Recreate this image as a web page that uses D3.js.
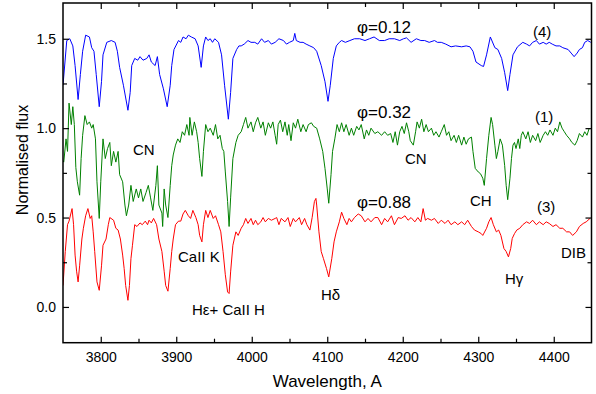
<!DOCTYPE html>
<html>
<head>
<meta charset="utf-8">
<script src="https://cdn.jsdelivr.net/npm/d3@7"></script>
<style>
  body { margin: 0; background: #fff; }
  svg text { font-family: "Liberation Sans", Arial, sans-serif; fill: #000; }
</style>
</head>
<body>
<svg id="chart" width="596" height="394"></svg>
<script>
// spectra: wavelength (A) and normalised flux
var blueWave = [3750,3755,3759,3763,3766,3770,3773,3776,3780,3785,3788,3791,3794,3798,3801,3803,3808,3814,3819,3822,3825,3830,3836,3839,3841,3845,3849,3852,3856,3861,3864,3867,3872,3875,3878,3883,3888,3892,3894,3897,3903,3906,3909,3913,3916,3920,3925,3929,3933,3936,3939,3942,3945,3948,3951,3956,3960,3964,3969,3972,3975,3980,3983,3986,3990,3995,3999,4004,4008,4013,4017,4022,4026,4031,4036,4042,4046,4050,4055,4057,4059,4064,4068,4072,4077,4082,4086,4092,4097,4101,4104,4108,4112,4116,4119,4124,4130,4136,4143,4150,4156,4162,4169,4176,4182,4189,4196,4201,4205,4211,4218,4224,4229,4235,4242,4246,4251,4257,4264,4270,4278,4284,4289,4293,4297,4304,4307,4311,4316,4322,4326,4331,4335,4339,4342,4346,4352,4359,4364,4368,4372,4377,4381,4386,4390,4394,4398,4403,4408,4412,4419,4423,4427,4431,4434,4438,4441,4445,4449];
var blueFlux = [1.24,1.49,1.50,1.46,1.35,1.16,1.30,1.43,1.52,1.51,1.45,1.43,1.30,1.12,1.26,1.41,1.48,1.49,1.48,1.43,1.34,1.24,1.10,1.20,1.35,1.39,1.38,1.40,1.38,1.39,1.41,1.37,1.35,1.40,1.30,1.22,1.12,1.24,1.35,1.44,1.49,1.48,1.51,1.50,1.52,1.51,1.50,1.46,1.34,1.46,1.51,1.49,1.50,1.48,1.50,1.48,1.41,1.24,1.05,1.20,1.39,1.44,1.46,1.46,1.47,1.49,1.48,1.48,1.47,1.50,1.48,1.49,1.47,1.48,1.50,1.49,1.47,1.48,1.49,1.53,1.49,1.48,1.48,1.47,1.46,1.45,1.43,1.35,1.26,1.15,1.24,1.39,1.46,1.48,1.49,1.48,1.49,1.50,1.50,1.49,1.50,1.51,1.49,1.49,1.50,1.50,1.49,1.50,1.505,1.48,1.50,1.49,1.49,1.48,1.49,1.48,1.48,1.47,1.455,1.46,1.455,1.46,1.455,1.43,1.37,1.35,1.345,1.41,1.51,1.45,1.44,1.39,1.31,1.21,1.30,1.41,1.455,1.48,1.47,1.46,1.48,1.49,1.47,1.48,1.47,1.48,1.47,1.46,1.46,1.45,1.44,1.42,1.40,1.42,1.44,1.45,1.48,1.49,1.48];

var greenWave = [3750,3751,3754,3756,3758,3761,3763,3765,3767,3769,3772,3774,3776,3779,3782,3785,3788,3790,3793,3795,3798,3800,3803,3806,3809,3812,3814,3817,3820,3823,3825,3829,3832,3834,3837,3840,3843,3847,3850,3853,3856,3860,3863,3866,3869,3873,3875,3877,3881,3882,3884,3886,3889,3892,3894,3896,3899,3902,3905,3908,3911,3914,3917,3918,3921,3924,3927,3929,3931,3934,3936,3939,3942,3945,3949,3952,3955,3958,3961,3963,3965,3968,3970,3972,3975,3979,3982,3986,3989,3992,3995,3999,4002,4005,4008,4012,4015,4018,4022,4025,4028,4031,4033,4035,4038,4041,4044,4047,4049,4052,4055,4058,4061,4065,4068,4072,4075,4079,4082,4086,4090,4094,4097,4100,4102,4105,4107,4110,4113,4116,4119,4122,4125,4129,4132,4135,4139,4142,4145,4149,4152,4155,4158,4163,4167,4172,4176,4180,4184,4187,4190,4193,4196,4199,4202,4205,4208,4210,4214,4217,4219,4222,4225,4228,4231,4234,4238,4241,4244,4248,4251,4255,4258,4261,4264,4268,4271,4274,4278,4281,4284,4287,4291,4293,4296,4300,4303,4306,4308,4311,4314,4317,4319,4322,4324,4326,4329,4332,4335,4337,4339,4342,4344,4346,4348,4350,4353,4355,4357,4359,4363,4366,4369,4372,4376,4379,4382,4386,4389,4392,4395,4399,4402,4405,4408,4411,4414,4417,4421,4424,4428,4431,4434,4438,4441,4444,4447];
var greenFlux = [0.82,0.81,0.94,0.87,1.14,1.02,1.12,1.02,0.78,0.70,0.625,0.83,0.96,1.07,1.02,1.035,1.00,1.02,0.94,0.70,0.495,0.70,0.94,0.83,0.886,0.92,0.79,0.87,0.81,0.87,0.74,0.70,0.57,0.51,0.57,0.68,0.59,0.66,0.61,0.66,0.59,0.64,0.68,0.61,0.54,0.68,0.79,0.57,0.525,0.45,0.66,0.57,0.50,0.68,0.79,0.85,0.905,0.94,0.92,0.98,0.96,1.02,0.96,1.06,0.96,1.035,0.98,0.92,0.83,0.73,0.87,1.02,0.98,1.00,0.96,1.02,0.94,0.96,0.886,0.87,0.755,0.59,0.45,0.61,0.83,0.92,0.96,0.98,1.02,1.06,1.00,1.035,0.98,1.03,1.06,1.00,1.035,0.96,1.03,1.00,1.035,0.96,0.91,1.02,1.045,0.98,1.035,0.96,1.02,0.93,1.03,1.00,1.05,0.98,1.02,0.98,1.02,1.03,1.01,1.00,0.94,0.87,0.775,0.66,0.58,0.74,0.87,0.94,1.02,0.98,1.03,0.98,1.02,0.96,1.00,0.96,1.01,0.99,1.02,0.94,0.99,0.96,1.00,0.97,0.98,0.96,0.98,0.96,0.97,0.92,0.98,0.905,0.98,1.01,0.97,1.03,0.98,0.93,0.905,0.98,1.035,1.00,1.05,0.98,1.02,0.98,1.00,0.96,0.98,0.95,0.98,1.02,0.96,0.98,0.93,0.96,0.92,0.96,0.905,0.95,0.91,0.94,0.95,0.87,0.775,0.755,0.745,0.72,0.68,0.83,0.96,1.06,1.02,0.905,0.83,0.87,0.94,0.905,0.79,0.68,0.60,0.72,0.83,0.905,0.92,0.886,0.94,0.886,0.96,0.98,0.94,0.98,0.92,0.96,0.93,0.97,0.92,0.96,0.98,0.96,0.99,0.96,1.00,0.98,1.035,1.00,0.98,0.96,0.94,0.92,0.905,0.93,0.97,0.95,0.98,0.96,1.00];

var redWave = [3750,3753,3756,3758,3762,3764,3766,3768,3770,3772,3775,3777,3780,3783,3786,3788,3790,3792,3795,3798,3801,3803,3807,3810,3812,3817,3820,3823,3826,3829,3831,3833,3836,3838,3840,3842,3845,3848,3852,3855,3859,3862,3864,3867,3870,3874,3877,3881,3884,3886,3889,3892,3894,3896,3899,3903,3906,3909,3912,3916,3919,3922,3926,3929,3931,3934,3936,3939,3942,3945,3949,3952,3956,3959,3962,3965,3968,3970,3972,3975,3979,3982,3986,3989,3992,3995,3999,4002,4005,4008,4012,4015,4018,4022,4026,4031,4033,4036,4039,4044,4048,4051,4055,4058,4063,4066,4070,4073,4077,4080,4083,4085,4086,4089,4092,4095,4099,4102,4106,4109,4112,4116,4119,4122,4126,4129,4132,4136,4141,4145,4150,4154,4158,4163,4167,4172,4176,4180,4185,4189,4194,4198,4203,4207,4211,4216,4220,4224,4227,4230,4233,4238,4242,4247,4251,4256,4260,4264,4269,4273,4278,4282,4286,4291,4295,4300,4304,4306,4311,4314,4317,4320,4324,4327,4330,4334,4337,4340,4343,4345,4348,4351,4355,4359,4364,4368,4372,4377,4381,4386,4390,4394,4399,4403,4408,4412,4417,4421,4425,4430,4434,4439,4443,4448];
var redFlux = [0.12,0.31,0.46,0.48,0.55,0.46,0.29,0.20,0.14,0.23,0.38,0.44,0.51,0.55,0.495,0.51,0.42,0.31,0.14,0.093,0.23,0.345,0.38,0.46,0.50,0.485,0.44,0.43,0.38,0.29,0.215,0.12,0.037,0.12,0.27,0.345,0.46,0.45,0.47,0.46,0.48,0.46,0.485,0.47,0.495,0.46,0.38,0.31,0.20,0.12,0.088,0.215,0.31,0.38,0.46,0.48,0.48,0.52,0.54,0.51,0.495,0.54,0.50,0.46,0.40,0.364,0.46,0.54,0.50,0.54,0.495,0.51,0.46,0.42,0.31,0.18,0.084,0.075,0.196,0.345,0.42,0.40,0.44,0.46,0.495,0.467,0.495,0.46,0.485,0.46,0.476,0.50,0.476,0.495,0.485,0.495,0.50,0.46,0.495,0.476,0.50,0.45,0.495,0.476,0.50,0.46,0.495,0.46,0.43,0.50,0.59,0.607,0.57,0.42,0.31,0.27,0.215,0.168,0.27,0.364,0.42,0.476,0.53,0.495,0.46,0.495,0.476,0.50,0.52,0.51,0.476,0.495,0.476,0.50,0.50,0.46,0.495,0.476,0.51,0.46,0.50,0.495,0.51,0.485,0.50,0.476,0.50,0.476,0.55,0.485,0.495,0.485,0.495,0.467,0.485,0.467,0.485,0.46,0.476,0.46,0.476,0.46,0.485,0.45,0.43,0.42,0.41,0.40,0.44,0.476,0.50,0.46,0.42,0.43,0.40,0.327,0.31,0.28,0.327,0.383,0.41,0.43,0.44,0.46,0.476,0.467,0.485,0.46,0.476,0.46,0.476,0.467,0.45,0.46,0.44,0.44,0.42,0.42,0.40,0.42,0.45,0.467,0.476,0.495];

var xTicks = [3800, 3900, 4000, 4100, 4200, 4300, 4400];
var xMinor = [3850, 3950, 4050, 4150, 4250, 4350];
var yTicks = [0.0, 0.5, 1.0, 1.5];
var yMinor = [0.25, 0.75, 1.25];

var series = [
  { wave: blueWave, flux: blueFlux, color: "#0000ff" },
  { wave: greenWave, flux: greenFlux, color: "#008000" },
  { wave: redWave, flux: redFlux, color: "#ff0000" }
];

var plotL = 63, plotR = 591.5, plotT = 3, plotB = 342.7;

var x = d3.scaleLinear().domain([3750, 4450]).range([plotL, plotR]);
var y = d3.scaleLinear().domain([-0.2, 1.7]).range([plotB, plotT]);

var svg = d3.select("#chart");

svg.append("clipPath").attr("id", "plotclip")
  .append("rect")
  .attr("x", plotL).attr("y", plotT)
  .attr("width", plotR - plotL).attr("height", plotB - plotT);

var line = d3.line()
  .x(function(d) { return x(d[0]); })
  .y(function(d) { return y(d[1]); });

series.forEach(function(s) {
  var pts = s.wave.map(function(w, i) { return [w, s.flux[i]]; });
  svg.append("path")
    .datum(pts)
    .attr("clip-path", "url(#plotclip)")
    .attr("fill", "none")
    .attr("stroke", s.color)
    .attr("stroke-width", 1)
    .attr("stroke-linejoin", "round")
    .attr("d", line);
});

// frame
svg.append("rect")
  .attr("x", plotL).attr("y", plotT)
  .attr("width", plotR - plotL).attr("height", plotB - plotT)
  .attr("fill", "none").attr("stroke", "#000").attr("stroke-width", 1.5);

function styleAxis(g) {
  g.select(".domain").remove();
  g.selectAll(".tick line").attr("stroke", "#000").attr("stroke-width", 1.2);
  g.selectAll("text").style("font-size", "14px").style("font-family", "'Liberation Sans', Arial, sans-serif");
}

// bottom axis with labels, ticks pointing in
svg.append("g")
  .attr("transform", "translate(0," + plotB + ")")
  .call(d3.axisBottom(x).tickValues(xTicks).tickSize(-6).tickPadding(9).tickFormat(d3.format("d")))
  .call(styleAxis);
svg.append("g")
  .attr("transform", "translate(0," + plotB + ")")
  .call(d3.axisBottom(x).tickValues(xMinor).tickSize(-4).tickFormat(""))
  .call(styleAxis);

// top axis, ticks only
svg.append("g")
  .attr("transform", "translate(0," + plotT + ")")
  .call(d3.axisTop(x).tickValues(xTicks).tickSize(-6).tickFormat(""))
  .call(styleAxis);
svg.append("g")
  .attr("transform", "translate(0," + plotT + ")")
  .call(d3.axisTop(x).tickValues(xMinor).tickSize(-4).tickFormat(""))
  .call(styleAxis);

// left axis with labels
svg.append("g")
  .attr("transform", "translate(" + plotL + ",0)")
  .call(d3.axisLeft(y).tickValues(yTicks).tickSize(-6).tickPadding(7).tickFormat(d3.format(".1f")))
  .call(styleAxis);
svg.append("g")
  .attr("transform", "translate(" + plotL + ",0)")
  .call(d3.axisLeft(y).tickValues(yMinor).tickSize(-4).tickFormat(""))
  .call(styleAxis);

// right axis, ticks only
svg.append("g")
  .attr("transform", "translate(" + plotR + ",0)")
  .call(d3.axisRight(y).tickValues(yTicks).tickSize(-6).tickFormat(""))
  .call(styleAxis);
svg.append("g")
  .attr("transform", "translate(" + plotR + ",0)")
  .call(d3.axisRight(y).tickValues(yMinor).tickSize(-4).tickFormat(""))
  .call(styleAxis);

// axis titles
svg.append("text")
  .attr("x", (plotL + plotR) / 2).attr("y", 387)
  .attr("text-anchor", "middle")
  .style("font-size", "17px")
  .text("Wavelength, A");

svg.append("text")
  .attr("transform", "translate(28,160) rotate(-90)")
  .attr("text-anchor", "middle")
  .style("font-size", "16px")
  .text("Normalised flux");

// annotations
var notes = [
  { t: "\u03c6=0.12", x: 357, y: 33, s: 17 },
  { t: "\u03c6=0.32", x: 357, y: 118, s: 17 },
  { t: "\u03c6=0.88", x: 357, y: 208, s: 17 },
  { t: "(4)", x: 533, y: 37, s: 15 },
  { t: "(1)", x: 535, y: 122, s: 15 },
  { t: "(3)", x: 537, y: 212, s: 15 },
  { t: "CN", x: 133, y: 155, s: 15 },
  { t: "CN", x: 405, y: 164, s: 15 },
  { t: "CH", x: 470, y: 206, s: 15 },
  { t: "CaII K", x: 178, y: 262, s: 15 },
  { t: "H\u03b5+ CaII H", x: 192, y: 315, s: 15 },
  { t: "H\u03b4", x: 321, y: 300, s: 15 },
  { t: "H\u03b3", x: 505, y: 284, s: 15 },
  { t: "DIB", x: 561, y: 258, s: 15 }
];

svg.selectAll("text.note")
  .data(notes)
  .enter().append("text")
  .attr("class", "note")
  .attr("x", function(d) { return d.x; })
  .attr("y", function(d) { return d.y; })
  .style("font-size", function(d) { return d.s + "px"; })
  .text(function(d) { return d.t; });
</script>
</body>
</html>
